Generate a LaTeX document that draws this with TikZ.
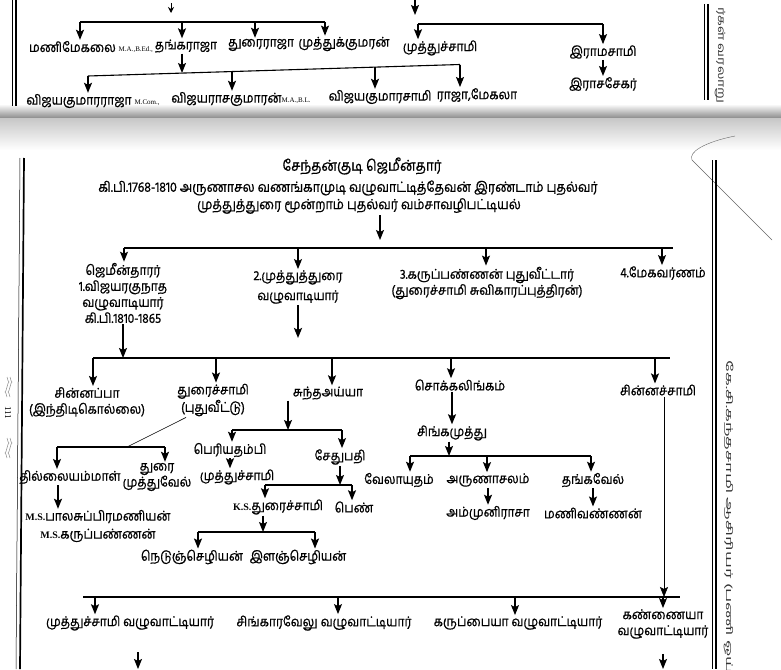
\documentclass[tikz,border=0pt]{standalone}
\usepackage{fontspec}
\usetikzlibrary{arrows.meta}
\newfontfamily\tamil[Script=Tamil,FakeBold=0.8,FakeStretch=0.89]{Hind Madurai}
\newfontfamily\tamilwide[Script=Tamil,FakeStretch=2.0]{Hind Madurai}
\newfontfamily\tamilspine[Script=Tamil,FakeStretch=1.4]{Hind Madurai}
\newfontfamily\serifqual{Liberation Serif}
\newcommand{\quals}[1]{{\serifqual\fontsize{7}{9}\selectfont #1}}
\newcommand{\initials}[1]{{\serifqual\bfseries\fontsize{10}{12}\selectfont #1}}
\tikzset{
  nm/.style={font=\tamil\fontsize{13.5}{16}\selectfont, inner sep=1pt, align=center},
  head/.style={font=\tamil\fontsize{14}{16}\selectfont, inner sep=1pt},
  spine/.style={font=\tamilspine\fontsize{10}{12}\selectfont, rotate=-90, anchor=west, text=black!80},
  arr/.style={-{Stealth[length=10pt,width=8pt,inset=2pt]}, line width=1.3pt},
  bar/.style={line width=1.1pt},
}

\begin{document}
\begin{tikzpicture}[x=1pt,y=-1pt]
  \useasboundingbox (0,0) rectangle (781,669);
  \fill[white] (0,0) rectangle (781,669);
  % fold between the two pages
  \shade[top color=white, bottom color=black!45] (0,104) rectangle (781,118);
  \shade[top color=black!22, bottom color=white] (0,118) rectangle (781,150);
  \draw[black!60, line width=.4pt] (735,136) .. controls (705,142) and (688,152) .. (692,160) -- (772,240);

  % previous page
  \draw[line width=.5pt] (12.5,0) -- (12.5,106);
  \draw[line width=1.8pt] (16,0) -- (16,106);
  \draw[line width=.5pt] (704,4) -- (704,100);
  \draw[line width=1.8pt] (708,4) -- (708,100);
  \node[spine] (spinetop) at (720,4) {ர்கள் வரலாறு};

  \node[nm] (mani) at (91,47) {மணிமேகலை \quals{M.A.,B.Ed.,}};
  \node[nm] (thanga) at (186,46) {தங்கராஜா};
  \node[nm] (durairaja) at (261,45) {துரைராஜா};
  \node[nm] (mkumar) at (344,44) {முத்துக்குமரன்};
  \node[nm] (muthutop) at (440,48) {முத்துச்சாமி};
  \node[nm] (rama) at (603,52) {இராமசாமி};
  \node[nm] (rasa) at (603,84) {இராசசேகர்};
  \node[nm] (vk1) at (93,101) {விஜயகுமாரராஜா \quals{M.Com.,}};
  \node[nm] (vk2) at (241,99) {விஜயராசகுமாரன்\quals{M.A.,B.L.}};
  \node[nm] (vk3) at (380,97) {விஜயகுமாரசாமி};
  \node[nm] (vk4) at (477,95) {ராஜா,மேகலா};

  \coordinate (tp0) at (171,3);
  \coordinate (tp1) at (171,13);
  \draw[-{Stealth[length=6pt,width=6pt]}, line width=1pt] (tp0) -- (tp1);
  \coordinate (ta1) at (80,22);
  \coordinate (ta2) at (182,22);
  \coordinate (ta3) at (255,22);
  \coordinate (ta4) at (325,22);
  \draw[bar] (ta1) -- (ta4);
  \foreach \j/\n in {ta1/mani,ta2/thanga,ta3/durairaja,ta4/mkumar}
    \draw[arr] (\j) -- (\j |- \n.north);
  \coordinate (tb0) at (182,73);
  \draw[arr] (thanga.south -| tb0) -- (tb0);
  \coordinate (tb1) at (88,76);
  \coordinate (tb2) at (232,71.5);
  \coordinate (tb3) at (375,67);
  \coordinate (tb4) at (460,64.5);
  \draw[bar] (tb1) -- (tb4);
  \foreach \j/\n in {tb1/vk1,tb2/vk2,tb3/vk3,tb4/vk4}
    \draw[arr] (\j) -- (\j |- \n.north);
  \coordinate (tc0) at (415,0);
  \coordinate (tc0e) at (415,15);
  \draw[arr] (tc0) -- (tc0e);
  \coordinate (tc1) at (418,24);
  \coordinate (tc2) at (603,24);
  \draw[bar] (tc1) -- (tc2);
  \foreach \j/\n in {tc1/muthutop,tc2/rama}
    \draw[arr] (\j) -- (\j |- \n.north);
  \draw[arr] (rama) -- (rasa);

  % this page: frame and margins
  \draw[line width=.5pt] (20,158) -- (16,669);
  \draw[line width=1.7pt] (24,158) -- (20,669);
  \draw[line width=.5pt] (712,160) -- (712,669);
  \draw[line width=1.8pt] (716,160) -- (716,669);
  \node[spine, font=\tamilwide\fontsize{9}{11}\selectfont] (spinebot) at (729,357) {கே.சி.கந்தசாமி ஆசிரியர் (பணி ஓய்வு)};
  \node[font=\serifqual\fontsize{9}{10}\selectfont, rotate=-90, inner sep=0pt] (pgno) at (8,413) {111};
  \foreach \yo in {377,438}{
    \draw[black!45, line width=.5pt] (7,\yo) sin (9,\yo+5) cos (7,\yo+10) sin (5,\yo+15) cos (7,\yo+20);
    \draw[black!45, line width=.5pt] (10,\yo) sin (12,\yo+5) cos (10,\yo+10) sin (8,\yo+15) cos (10,\yo+20);
  }

  % heading
  \node[head, font=\tamil\fontsize{15}{16}\selectfont] (title) at (362,166) {சேந்தன்குடி ஜெமீன்தார்};
  \node[head] (sub1) at (348,188) {கி.பி.1768-1810 அருணாசல வணங்காமுடி வழுவாட்டித்தேவன் இரண்டாம் புதல்வர்};
  \node[head] (sub2) at (359,206) {முத்துத்துரை மூன்றாம் புதல்வர் வம்சாவழிபட்டியல்};
  \coordinate (hd0) at (380,240);
  \draw[arr] (sub2.south -| hd0) -- (hd0);

  % first generation
  \node[nm] (g1a) at (123,293) {ஜெமீன்தாரர்\\1.விஜயரகுநாத\\வழுவாடியார்\\கி.பி.1810-1865};
  \node[nm] (g1b) at (298,287) {2.முத்துத்துரை\\[4pt]வழுவாடியார்};
  \node[nm] (g1c) at (487,283) {3.கருப்பண்ணன் புதுவீட்டார்\\(துரைச்சாமி சுவிகாரப்புத்திரன்)};
  \node[nm] (g1d) at (663,273) {4.மேகவர்ணம்};
  \coordinate (d1) at (124,248);
  \coordinate (d2) at (298,248);
  \coordinate (d3) at (486,248);
  \coordinate (d4) at (662,248);
  \coordinate (dend) at (673,248);
  \draw[bar] (d1) -- (dend);
  \foreach \j/\n in {d1/g1a,d2/g1b,d3/g1c,d4/g1d}
    \draw[arr] (\j) -- (\j |- \n.north);
  \coordinate (g1bend) at (298,338);
  \draw[arr, line width=2pt] (g1b.south) -- (g1bend);

  % second generation
  \node[nm] (g2a) at (87,402) {சின்னப்பா\\(இந்திடிகொல்லை)};
  \node[nm] (g2b) at (213,400) {துரைச்சாமி\\(புதுவீட்டு)};
  \node[nm] (g2c) at (328,393) {சுந்தஅய்யா};
  \node[nm] (g2d) at (460,385) {சொக்கலிங்கம்};
  \node[nm] (g2e) at (658,390) {சின்னச்சாமி};
  \coordinate (e1) at (93,358);
  \coordinate (e2) at (216,358);
  \coordinate (e3) at (332,358);
  \coordinate (e4) at (451,358);
  \coordinate (e5) at (655,358);
  \coordinate (eend) at (670,358);
  \draw[arr] (g1a.south) -- (g1a.south |- e1);
  \draw[bar] (e1) -- (eend);
  \foreach \j/\n in {e1/g2a,e2/g2b,e3/g2c,e4/g2d,e5/g2e}
    \draw[arr] (\j) -- (\j |- \n.north);

  % branch of Duraisami
  \node[nm] (g3a) at (70,477) {தில்லையம்மாள்};
  \node[nm] (g3b) at (157,477) {துரை\\முத்துவேல்};
  \node[nm] (g4a) at (98,526) {\initials{M.S.}பாலசுப்பிரமணியன்\\[2pt]\initials{M.S.}கருப்பண்ணன்};
  \coordinate (fm) at (127,447);
  \coordinate (f1) at (57,447);
  \coordinate (f2) at (165,447);
  \draw[line width=.6pt] ([xshift=-27pt]g2b.south) -- (fm);
  \draw[bar] (f1) -- (f2);
  \foreach \j/\n in {f1/g3a,f2/g3b}
    \draw[arr] (\j) -- (\j |- \n.north);
  \draw[arr] ([xshift=-12pt]g3a.south) -- ([xshift=-12pt]g3a.south |- g4a.north);

  % branch of Sundaiyya
  \node[nm] (g3c) at (230,450) {பெரியதம்பி};
  \node[nm] (g3d) at (340,457) {சேதுபதி};
  \node[nm] (g3e) at (237,477) {முத்துச்சாமி};
  \node[nm] (g4c) at (278,507) {\initials{K.S.}துரைச்சாமி};
  \node[nm] (g4d) at (354,507) {பெண்};
  \node[nm] (g5a) at (192,557) {நெடுஞ்செழியன்};
  \node[nm] (g5b) at (298,557) {இளஞ்செழியன்};
  \coordinate (im) at (288,430);
  \coordinate (i1) at (232,430);
  \coordinate (i2) at (342,430);
  \draw[arr] (g2c.south -| im) -- (im);
  \draw[bar] (i1) -- (i2);
  \foreach \j/\n in {i1/g3c,i2/g3d}
    \draw[arr] (\j) -- (\j |- \n.north);
  \draw[arr] (g3c.south) -- (g3c.south |- g3e.north);
  \coordinate (jm) at (340,485);
  \coordinate (j1) at (265,485);
  \coordinate (j2) at (352,485);
  \draw[arr] (g3d.south -| jm) -- (jm);
  \draw[bar] (j1) -- (j2);
  \foreach \j/\n in {j1/g4c,j2/g4d}
    \draw[arr] (\j) -- (\j |- \n.north);
  \coordinate (km) at (263,532);
  \coordinate (k1) at (198,532);
  \coordinate (k2) at (315,532);
  \draw[arr] (g4c.south -| km) -- (km);
  \draw[bar] (k1) -- (k2);
  \foreach \j/\n in {k1/g5a,k2/g5b}
    \draw[arr] (\j) -- (\j |- \n.north);

  % branch of Chokkalingam
  \node[nm] (g3f) at (452,433) {சிங்கமுத்து};
  \node[nm] (g4e) at (399,480) {வேலாயுதம்};
  \node[nm] (g4f) at (488,480) {அருணாசலம்};
  \node[nm] (g4g) at (593,480) {தங்கவேல்};
  \node[nm] (g5c) at (488,513) {அம்முனிராசா};
  \node[nm] (g5d) at (593,513) {மணிவண்ணன்};
  \draw[arr] (g2d.south -| g3f.north) -- (g3f.north);
  \coordinate (lm) at (449,456);
  \coordinate (l1) at (410,456);
  \coordinate (l2) at (487,456);
  \coordinate (l3) at (591,456);
  \draw[arr] (g3f.south -| lm) -- (lm);
  \draw[bar] (l1) -- (l3);
  \foreach \j/\n in {l1/g4e,l2/g4f,l3/g4g}
    \draw[arr] (\j) -- (\j |- \n.north);
  \draw[arr] (g4f) -- (g5c);
  \draw[arr] (g4g) -- (g5d);

  % last row
  \node[nm] (g6a) at (130,623) {முத்துச்சாமி வழுவாட்டியார்};
  \node[nm] (g6b) at (324,623) {சிங்காரவேலு வழுவாட்டியார்};
  \node[nm] (g6c) at (518,623) {கருப்பையா வழுவாட்டியார்};
  \node[nm] (g6d) at (663,624) {கண்ணையா\\வழுவாட்டியார்};
  \coordinate (mm) at (664,597);
  \coordinate (m0) at (83,597);
  \coordinate (m1) at (95,597);
  \coordinate (m2) at (338,597);
  \coordinate (m3) at (515,597);
  \coordinate (m4) at (663,597);
  \coordinate (mend) at (680,597);
  \draw[arr, line width=.6pt] (g2e.south -| mm) -- (mm);
  \draw[bar] (m0) -- (mend);
  \foreach \j/\n in {m1/g6a,m2/g6b,m3/g6c,m4/g6d}
    \draw[arr] (\j) -- (\j |- \n.north);
  \coordinate (q1) at (138,652);
  \coordinate (q1e) at (138,669);
  \coordinate (q2e) at (663,669);
  \draw[arr] (q1) -- (q1e);
  \draw[arr, shorten <=14pt] (g6d.south) -- (q2e);
\end{tikzpicture}
\end{document}
